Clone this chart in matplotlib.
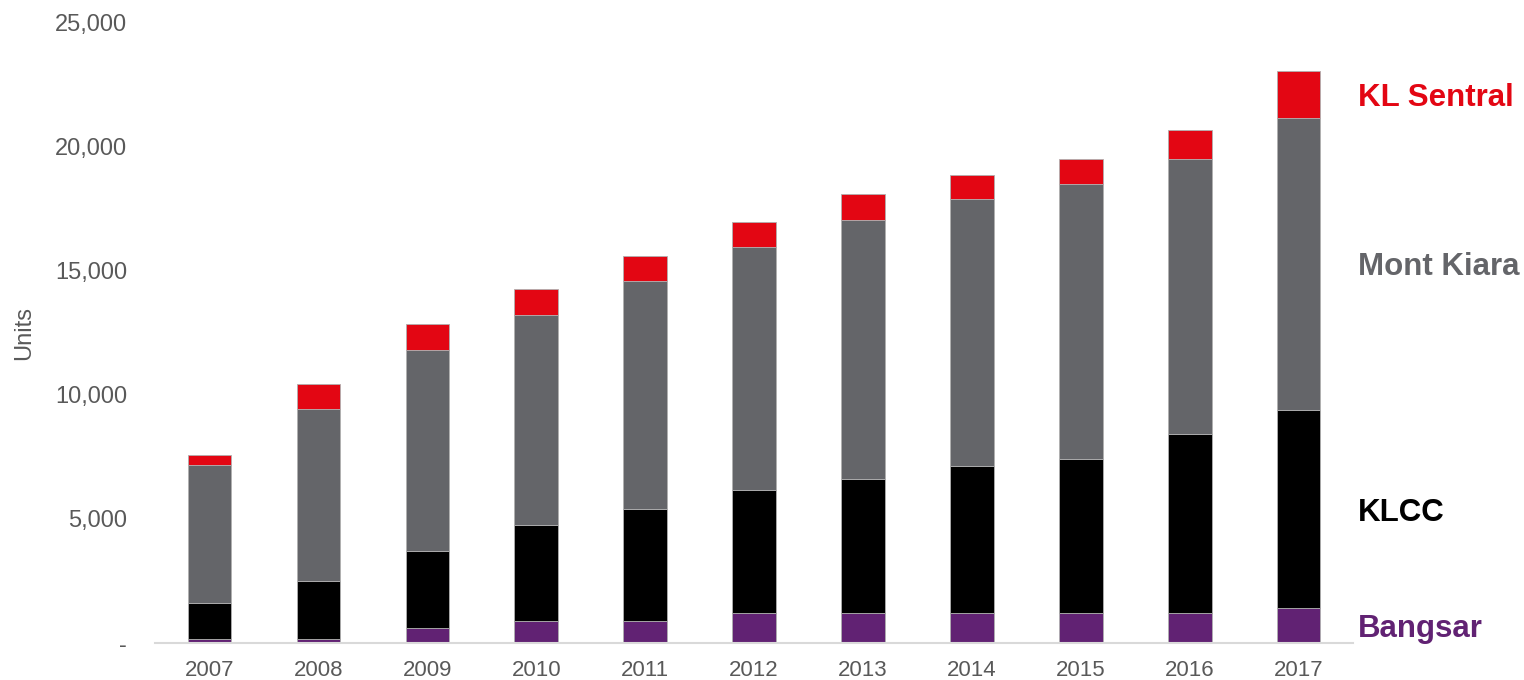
import matplotlib
matplotlib.use('Agg')
import numpy as np
import matplotlib.pyplot as plt
from matplotlib.ticker import FuncFormatter

plt.rcParams['font.family'] = ['Liberation Sans', 'DejaVu Sans']

# data (units)
years = ['2007', '2008', '2009', '2010', '2011', '2012', '2013', '2014', '2015', '2016', '2017']
bangsar = [150, 150, 600, 890, 900, 1200, 1200, 1200, 1200, 1200, 1390]
klcc = [1470, 2350, 3100, 3850, 4480, 4980, 5390, 5910, 6190, 7220, 8010]
mont_kiara = [5540, 6910, 8080, 8460, 9190, 9770, 10460, 10750, 11070, 11070, 11740]
kl_sentral = [400, 1000, 1050, 1050, 1000, 1000, 1020, 1000, 1010, 1170, 1880]

series = [
    ('Bangsar', bangsar, '#612273'),
    ('KLCC', klcc, '#000000'),
    ('Mont Kiara', mont_kiara, '#646569'),
    ('KL Sentral', kl_sentral, '#E30613'),
]

fig = plt.figure(figsize=(15.24, 6.8), dpi=100)
ax = fig.add_axes([0.1017, 0.0544, 0.7862, 0.9132])

x = np.arange(len(years))
bottom = np.zeros(len(years))
mids = {}
for name, vals, col in series:
    vals = np.array(vals, dtype=float)
    ax.bar(x, vals, width=0.4, bottom=bottom, color=col,
           edgecolor='#b0b0b0', linewidth=0.6, zorder=2)
    mids[name] = bottom[-1] + vals[-1] / 2
    bottom = bottom + vals

# series labels to the right of the last bar
for name, _, col in series:
    ax.text(1.004, mids[name], name, transform=ax.get_yaxis_transform(),
            ha='left', va='center_baseline', fontsize=22.5, fontweight='bold',
            color=col, clip_on=False)

ax.set_xlim(-0.5, len(years) - 0.5)
ax.set_ylim(0, 25000)
ax.set_yticks(np.arange(0, 25001, 5000))
ax.yaxis.set_major_formatter(FuncFormatter(lambda v, p: '-' if v == 0 else f'{int(v):,}'))
ax.set_xticks(x)
ax.set_xticklabels(years)

ax.tick_params(axis='both', length=0, labelcolor='#595959')
ax.tick_params(axis='y', pad=20, labelsize=17)
ax.tick_params(axis='x', pad=12, labelsize=16)

for s in ['top', 'right', 'left']:
    ax.spines[s].set_visible(False)
ax.spines['bottom'].set_color('#d9d9d9')
ax.spines['bottom'].set_linewidth(1.5)

ax.set_ylabel('Units', fontsize=17, color='#595959')
ax.yaxis.set_label_coords(-0.1, 0.5)

plt.savefig('out.png', dpi=100)
plt.close()
